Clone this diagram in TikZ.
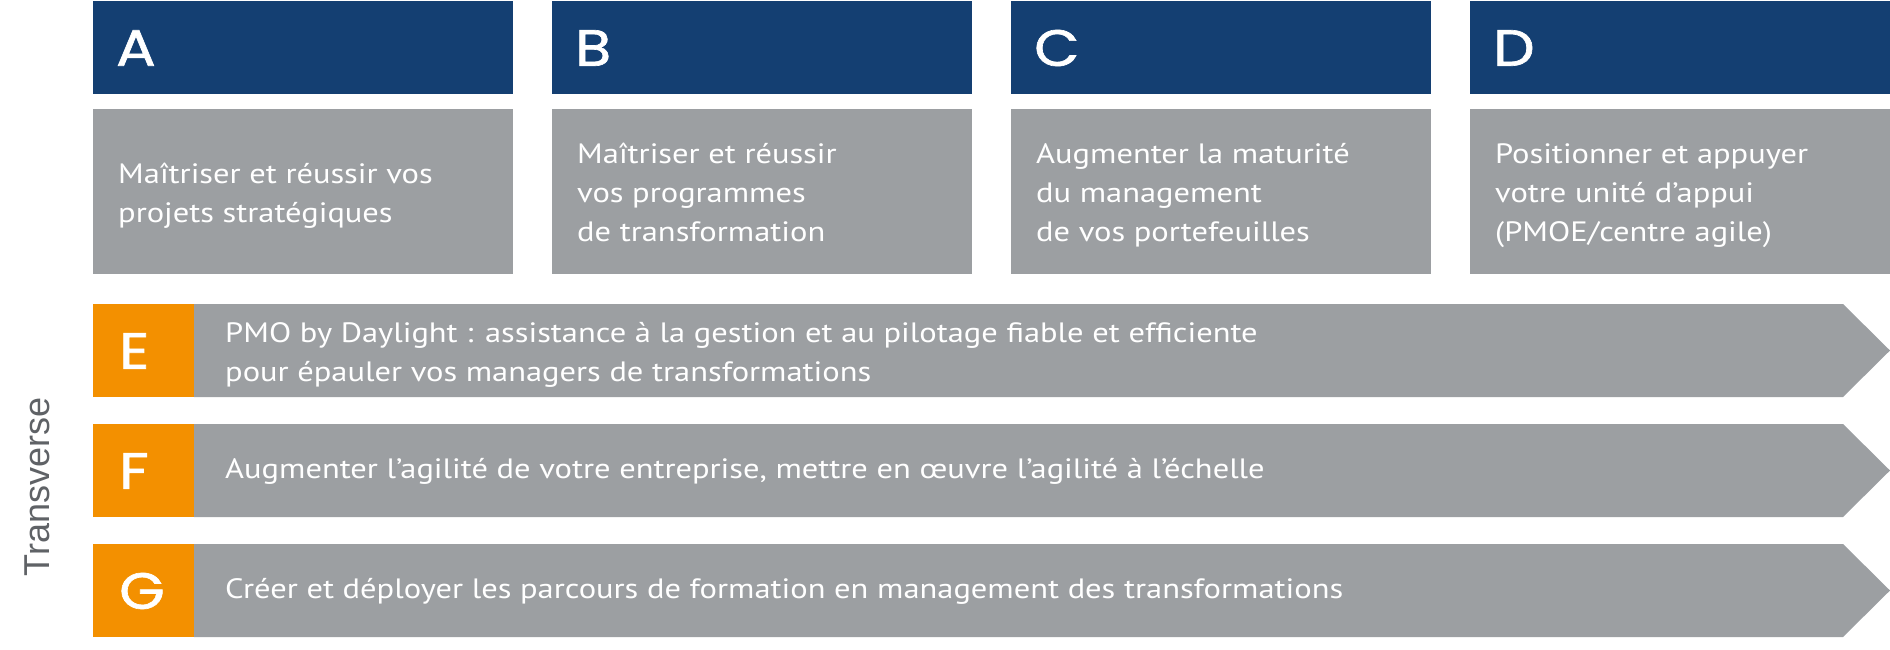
\documentclass[tikz,border=0pt]{standalone}
\usepackage{fontspec}
\setmainfont[FakeStretch=1.16]{PT Sans}
\newfontfamily\letterfont[FakeBold=1.3,FakeStretch=1.15]{Poppins}
\newfontfamily\sidefont{Liberation Sans}
\definecolor{dblue}{HTML}{143F72}
\definecolor{lgray}{HTML}{9C9FA2}
\definecolor{orng}{HTML}{F39000}
\definecolor{sidegray}{HTML}{5F6266}
\tikzset{
  hdrbox/.style={fill=dblue, draw=none, rectangle, inner sep=0pt, minimum width=420pt, minimum height=93pt, anchor=north west},
  descbox/.style={fill=lgray, draw=none, rectangle, inner sep=0pt, minimum width=420pt, minimum height=165pt, anchor=north west},
  tagbox/.style={fill=orng, draw=none, rectangle, inner sep=0pt, minimum width=101pt, minimum height=93pt, anchor=north west},
  letter/.style={text=white, inner sep=0pt, anchor=west, font=\letterfont\fontsize{51}{51}\selectfont},
  desc/.style={text=white, inner sep=0pt, anchor=base west, align=left, font=\fontsize{28}{39}\selectfont},
  bar/.style={fill=lgray, draw=none}
}
\begin{document}
\begin{tikzpicture}[x=1pt,y=-1pt]
\useasboundingbox (0,0) rectangle (1890,650);
% top header boxes
\foreach \n/\x in {A/93,B/552,C/1011,D/1470}{
  \node[hdrbox] (h\n) at (\x,1) {};
  \node[descbox] (b\n) at (\x,109) {};
  \node[letter] (l\n) at (\x+23,48) {\n};
}
% anchor base = baseline of the last line
\node[desc] (tA) at (118,222) {Maîtriser et réussir vos\\projets stratégiques};
\node[desc] (tB) at (577,241) {Maîtriser et réussir\\vos programmes\\de transformation};
\node[desc] (tC) at (1036,241) {Augmenter la maturité\\du management\\de vos portefeuilles};
\node[desc] (tD) at (1495,241) {Positionner et appuyer\\votre unité d’appui\\(PMOE/centre agile)};
% transverse arrows
\foreach \n/\y in {E/304,F/424,G/544}{
  \fill[bar] (194,\y) -- (1843,\y) -- (1890,\y+46.5) -- (1843,\y+93) -- (194,\y+93) -- cycle;
  \node[tagbox] (o\n) at (93,\y) {};
  \node[letter] (l\n) at (119,\y+47) {\n};
}
\node[desc] (tE) at (225,381) {PMO by Daylight : assistance à la gestion et au pilotage fiable et efficiente\\pour épauler vos managers de transformations};
\node[desc] (tF) at (225,478) {Augmenter l’agilité de votre entreprise, mettre en œuvre l’agilité à l’échelle};
\node[desc] (tG) at (225,598) {Créer et déployer les parcours de formation en management des transformations};
\node[rotate=90, inner sep=0pt, anchor=center, text=sidegray, font=\sidefont\fontsize{36}{36}\selectfont] (side) at (37.5,487) {Transverse};
\end{tikzpicture}
\end{document}
